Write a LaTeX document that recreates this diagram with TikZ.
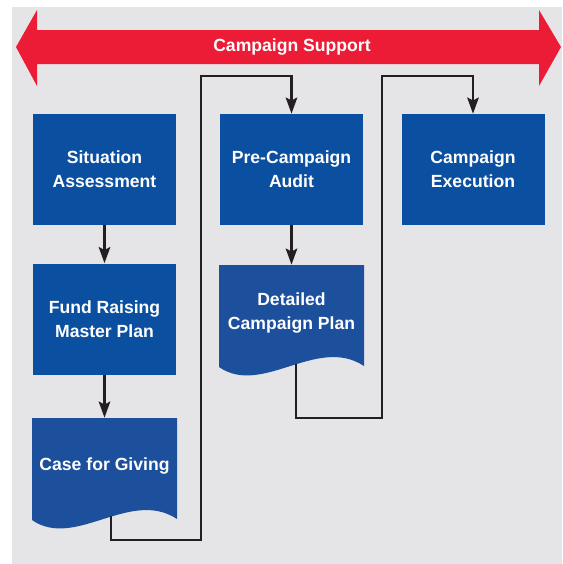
\documentclass[tikz,border=0pt]{standalone}
\usepackage{fontspec}
\setmainfont{Liberation Sans}
\usetikzlibrary{arrows.meta}

\definecolor{panelgray}{RGB}{229,229,231}
\definecolor{stepblue}{RGB}{11,80,160}
\definecolor{docblue}{RGB}{28,79,156}
\definecolor{bannerred}{RGB}{237,28,54}
\definecolor{linkgray}{RGB}{35,31,32}

\tikzset{
  boxfont/.style={font=\bfseries\fontsize{13.2}{18}\selectfont},
  stepbox/.style={boxfont, fill=stepblue, text=white, align=center,
    minimum width=107.25pt, minimum height=83.25pt},
  doclabel/.style={boxfont, text=white, align=center,
    minimum width=107.25pt, minimum height=72pt},
  link/.style={draw=linkgray, line width=2pt,
    -{Stealth[length=12pt,width=8.5pt,inset=2pt]}}
}

\begin{document}
\begin{tikzpicture}[x=0.75pt,y=0.75pt,yscale=-1,xscale=1]
              \useasboundingbox (0,0) rectangle (562,564);
              \fill[panelgray] (12,7) rectangle (562,564);
              % support banner across the top
              \fill[bannerred] (16,47) -- (37,10) -- (37,30) -- (539,30) -- (539,10) -- (561,47) -- (539,86) -- (539,64) -- (37,64) -- (37,86) -- cycle ;
              \node[boxfont, text=white] (support) at (292,47) {Campaign Support};
              % document shapes
              \fill[docblue] (32,418) -- (177,418) -- (177,519) .. controls (130,488) and (75,550) .. (32,520) -- cycle ;
              \fill[docblue] (219,265) -- (364,265) -- (364,366) .. controls (317,335) and (262,397) .. (219,367) -- cycle ;
              \node[stepbox] (sa) at (104.5,169.5) {Situation\\Assessment};
              \node[stepbox] (frmp) at (104.5,319) {Fund Raising\\Master Plan};
              \node[doclabel] (cfg) at (104.5,466) {Case for Giving};
              \node[stepbox] (pca) at (291.5,169.5) {Pre-Campaign\\Audit};
              \node[doclabel] (dcp) at (291.5,313) {Detailed\\Campaign Plan};
              \node[stepbox] (ce) at (473,169.5) {Campaign\\Execution};
              \coordinate (cfg-out) at (111,516);
              \coordinate (dcp-out) at (296,364);
              \draw[link] (sa) -- (frmp);
              \draw[link] (frmp) -- (cfg);
              \draw[link] (pca) -- (dcp);
              \draw[link] (cfg-out) |- (201,540) -- (201,76) -| (pca);
              \draw[link] (dcp-out) |- (382,418) -- (382,76) -| (ce);
            \end{tikzpicture}
\end{document}
